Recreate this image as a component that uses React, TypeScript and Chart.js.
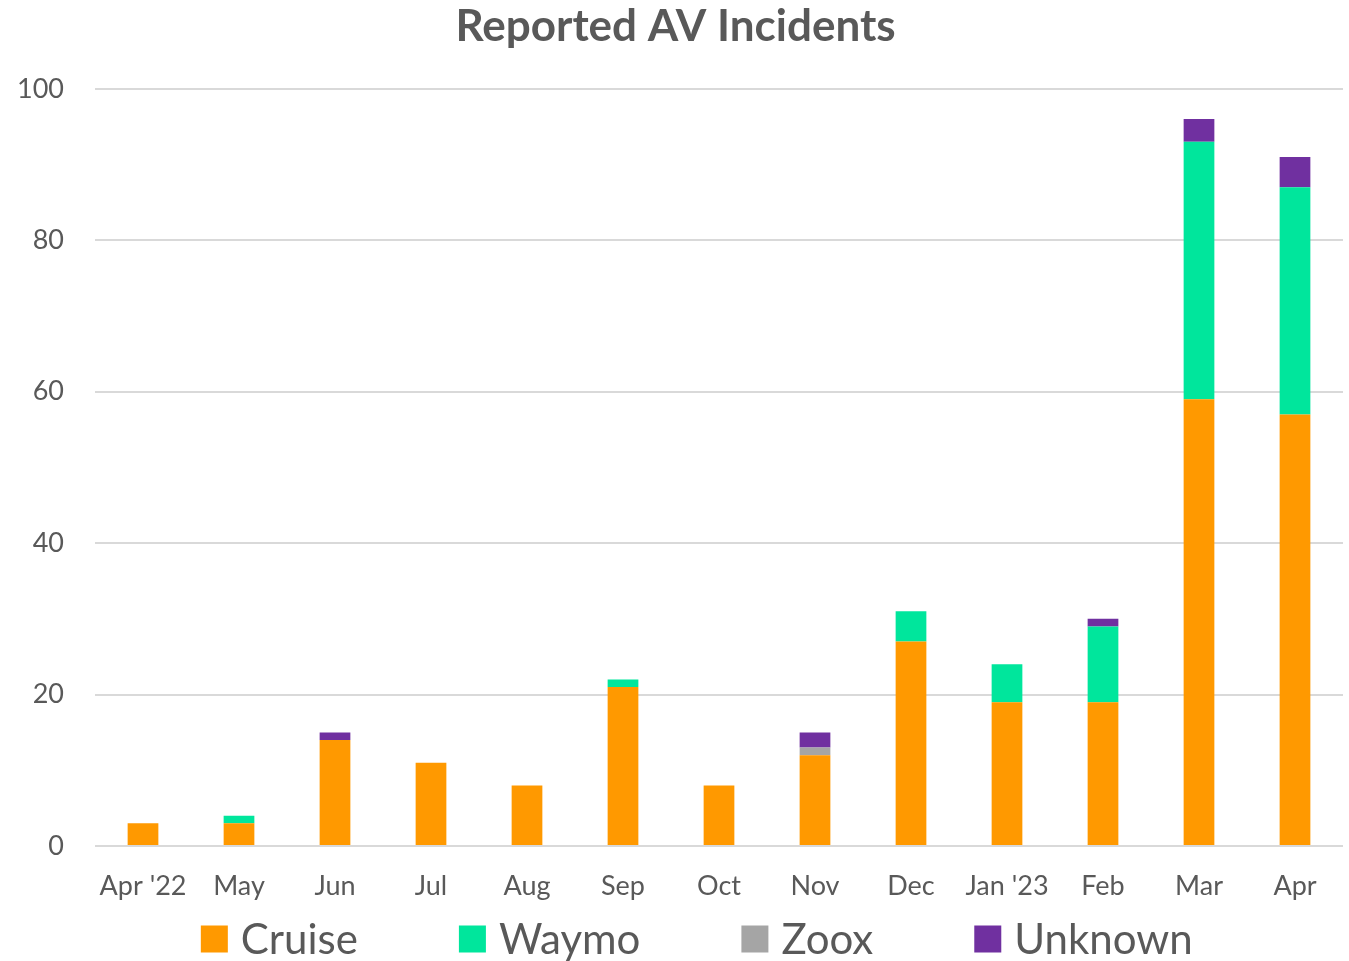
import React, { useEffect, useRef } from "react";
import { Chart, registerables } from "chart.js";

Chart.register(...registerables);

const categories = ["Apr '22", "May", "Jun", "Jul", "Aug", "Sep", "Oct", "Nov", "Dec", "Jan '23", "Feb", "Mar", "Apr"];
const cruise = [3, 3, 14, 11, 8, 21, 8, 12, 27, 19, 19, 59, 57];
const waymo = [0, 1, 0, 0, 0, 1, 0, 0, 4, 5, 10, 34, 30];
const zoox = [0, 0, 0, 0, 0, 0, 0, 1, 0, 0, 0, 0, 0];
const unknown = [0, 0, 1, 0, 0, 0, 0, 2, 0, 0, 1, 3, 4];
const yTicks = [0, 20, 40, 60, 80, 100];

const FONT = "Lato, 'Open Sans', sans-serif";
const TEXT = "#595959";

const bottomLegend = {
  id: "bottomLegend",
  afterDraw(chart: any) {
    const ctx = chart.ctx;
    const items = chart.data.datasets.map((d: any) => ({ label: d.label, color: d.backgroundColor }));
    const box = 27;
    const textGap = 13;
    const itemGap = 101;
    ctx.save();
    ctx.font = `42px ${FONT}`;
    const widths = items.map((it: any) => box + textGap + ctx.measureText(it.label).width);
    const total = widths.reduce((a: number, b: number) => a + b, 0) + itemGap * (items.length - 1);
    const center = (chart.width / 2 + (chart.chartArea.left + chart.chartArea.right) / 2) / 2;
    let x = center - total / 2;
    const cy = 939;
    ctx.textBaseline = "middle";
    ctx.textAlign = "left";
    items.forEach((it: any, i: number) => {
      ctx.fillStyle = it.color;
      ctx.fillRect(x, cy - box / 2, box, box);
      ctx.fillStyle = TEXT;
      ctx.fillText(it.label, x + box + textGap, cy + 1);
      x += widths[i] + itemGap;
    });
    ctx.restore();
  },
};

export default function App() {
  const ref = useRef<HTMLCanvasElement | null>(null);
  useEffect(() => {
    if (!ref.current) return;
    const mk = (label: string, data: number[], color: string) => ({
      label,
      data,
      backgroundColor: color,
      borderWidth: 0,
      barPercentage: 0.32,
      categoryPercentage: 1,
    });
    const chart = new Chart(ref.current, {
      type: "bar",
      data: {
        labels: categories,
        datasets: [
          mk("Cruise", cruise, "#FF9900"),
          mk("Waymo", waymo, "#00E69C"),
          mk("Zoox", zoox, "#A5A5A5"),
          mk("Unknown", unknown, "#7030A0"),
        ],
      },
      plugins: [bottomLegend],
      options: {
        animation: false,
        responsive: true,
        maintainAspectRatio: false,
        layout: { padding: { left: 8, right: 6, top: 0, bottom: 60 } },
        plugins: {
          tooltip: { enabled: false },
          legend: { display: false },
          title: {
            display: true,
            text: "Reported AV Incidents",
            color: TEXT,
            font: { family: FONT, size: 44, weight: "bold" },
            padding: { top: 0, bottom: 36 },
          },
        },
        scales: {
          x: {
            stacked: true,
            grid: { display: false, drawTicks: false },
            border: { display: false },
            afterFit: (scale: any) => {
              scale.height = 55;
            },
            ticks: { color: TEXT, font: { family: FONT, size: 27 }, padding: 24, maxRotation: 0, autoSkip: false },
          },
          y: {
            stacked: true,
            min: 0,
            max: 100,
            afterFit: (scale: any) => {
              scale.width = 87;
            },
            afterBuildTicks: (axis: any) => {
              axis.ticks = yTicks.map((v) => ({ value: v }));
            },
            grid: { color: "#D9D9D9", lineWidth: 2, drawTicks: false },
            border: { display: false },
            ticks: { color: TEXT, font: { family: FONT, size: 27 }, padding: 31 },
          },
        },
      },
    });
    return () => chart.destroy();
  }, []);
  return (
    <div style={{ position: "fixed", left: 0, top: 0, width: 1349, height: 961, background: "#fff" }}>
      <canvas ref={ref} />
    </div>
  );
}
